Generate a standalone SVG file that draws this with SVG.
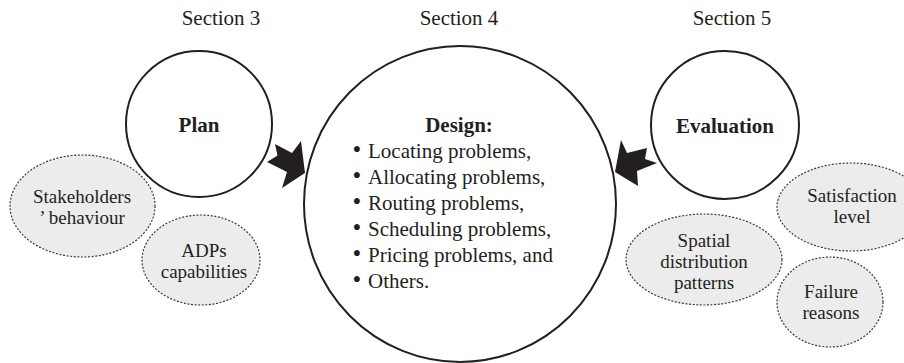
<svg xmlns="http://www.w3.org/2000/svg" width="904" height="363" viewBox="0 0 904 363">
<style>
text{font-family:"Liberation Serif","Times New Roman",serif;fill:#231f20}
.sec{font-size:21px;text-anchor:middle}
.title{font-size:21px;font-weight:bold;text-anchor:middle}
.item{font-size:21px}
.bul{font-size:25px}
.sub{font-size:19px;text-anchor:middle}
.main{fill:#fff;stroke:#231f20;stroke-width:2}
.aspect{fill:#ececec;stroke:#3a3a3a;stroke-width:1.2;stroke-dasharray:2 1.6}
.arrow{fill:#231f20;stroke:none}
</style>
<rect width="904" height="363" fill="#fff"/>
<g id="section-labels">
<text class="sec" x="221" y="25">Section 3</text>
<text class="sec" x="459" y="25">Section 4</text>
<text class="sec" x="732" y="25">Section 5</text>
</g>
<g id="plan">
<circle class="main" cx="199" cy="124" r="73"/>
<text class="title" x="199" y="132">Plan</text>
</g>
<g id="design">
<ellipse class="main" cx="460" cy="204" rx="156" ry="158"/>
<text class="title" x="459" y="132">Design:</text>
<text class="item" x="352.5" y="158"><tspan class="bul">•</tspan><tspan x="368">Locating problems,</tspan></text>
<text class="item" x="352.5" y="184"><tspan class="bul">•</tspan><tspan x="368">Allocating problems,</tspan></text>
<text class="item" x="352.5" y="210"><tspan class="bul">•</tspan><tspan x="368">Routing problems,</tspan></text>
<text class="item" x="352.5" y="236"><tspan class="bul">•</tspan><tspan x="368">Scheduling problems,</tspan></text>
<text class="item" x="352.5" y="262"><tspan class="bul">•</tspan><tspan x="368">Pricing problems, and</tspan></text>
<text class="item" x="352.5" y="288"><tspan class="bul">•</tspan><tspan x="368">Others.</tspan></text>
</g>
<g id="evaluation">
<circle class="main" cx="725" cy="125" r="74"/>
<text class="title" x="725" y="133">Evaluation</text>
</g>
<g id="stakeholders">
<ellipse class="aspect" cx="82.5" cy="206" rx="72.5" ry="51"/>
<text class="sub" x="82" y="203">Stakeholders</text>
<text class="sub" x="82" y="224">’ behaviour</text>
</g>
<g id="adps">
<ellipse class="aspect" cx="201" cy="260" rx="59" ry="45"/>
<text class="sub" x="204" y="257">ADPs</text>
<text class="sub" x="204" y="278">capabilities</text>
</g>
<g id="spatial">
<ellipse class="aspect" cx="704" cy="259.5" rx="78" ry="45.5"/>
<text class="sub" x="704" y="247">Spatial</text>
<text class="sub" x="704" y="268">distribution</text>
<text class="sub" x="704" y="289">patterns</text>
</g>
<g id="satisfaction">
<ellipse class="aspect" cx="851" cy="207" rx="74" ry="44"/>
<text class="sub" x="852" y="202">Satisfaction</text>
<text class="sub" x="852" y="223">level</text>
</g>
<g id="failure">
<ellipse class="aspect" cx="830" cy="302" rx="53" ry="45"/>
<text class="sub" x="831" y="298">Failure</text>
<text class="sub" x="831" y="319">reasons</text>
</g>
<g id="connectors">
<path class="arrow" d="M305,173 L301,141 L292,153 L275,144 L277.5,155.5 L267,162 L287,172 L282,188 Z"/>
<path class="arrow" d="M615,172 L621,140 L627,153 L647,148 L645,159 L657,163 L637,171 L638,186 Z"/>
</g>
</svg>
